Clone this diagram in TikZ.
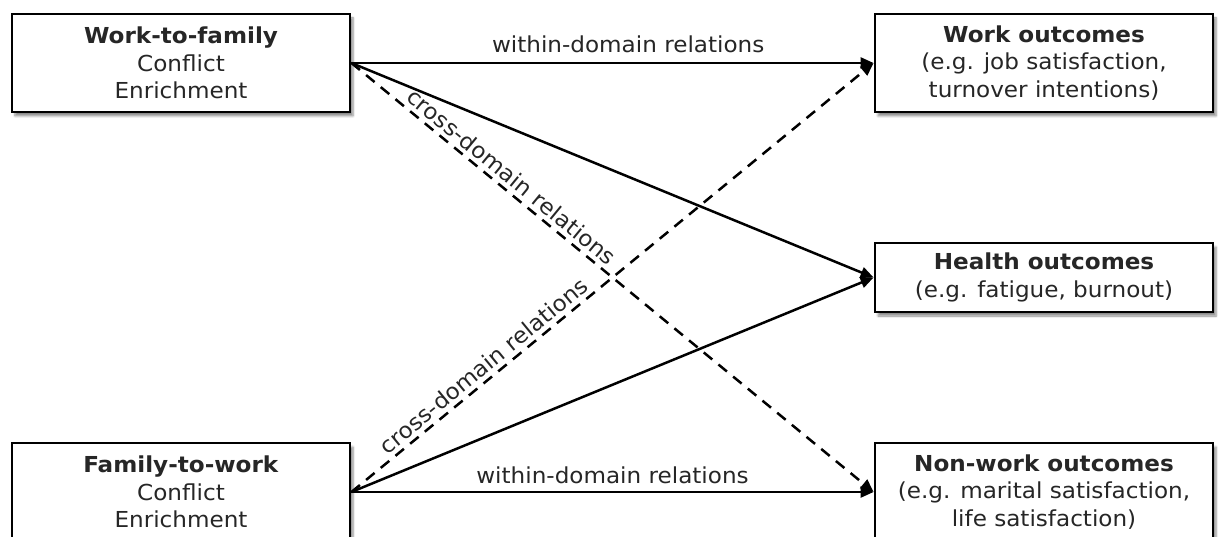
\documentclass[tikz,border=0pt]{standalone}
\usepackage{fontspec}
\setmainfont{DejaVu Sans}[FakeStretch=1.05]
\usetikzlibrary{arrows.meta,shadows.blur}
\begin{document}
\begin{tikzpicture}[x=1pt,y=-1pt,
  box/.style={draw=black, line width=2.8pt, fill=white, minimum width=338pt,
    inner sep=0pt, align=center, text=black!85,
    font=\fontsize{22}{27.5}\selectfont,
    blur shadow={shadow xshift=3pt, shadow yshift=-4pt, shadow blur steps=6, shadow opacity=45}},
  rel/.style={line width=2.5pt, -{Triangle[length=13pt,width=11pt]}},
  cross/.style={rel, dash pattern=on 11pt off 8pt},
  lbl/.style={font=\fontsize{22}{26}\selectfont, text=black!85, inner sep=0pt}
]
\useasboundingbox (0,0) rectangle (1220,537);

% predictor boxes
\node[box, minimum height=98pt] (wf) at (181,63)
  {\textbf{Work-to-family}\\Conflict\\Enrichment};
\node[box, minimum height=98pt] (fw) at (181,492)
  {\textbf{Family-to-work}\\Conflict\\Enrichment};

% outcome boxes
\node[box, minimum height=98pt] (wo) at (1044,63)
  {\textbf{Work outcomes}\\(e.g. job satisfaction,\\turnover intentions)};
\node[box, minimum height=69pt] (ho) at (1044,277.5)
  {\textbf{Health outcomes}\\(e.g. fatigue, burnout)};
\node[box, minimum height=98pt] (no) at (1044,492)
  {\textbf{Non-work outcomes}\\(e.g. marital satisfaction,\\life satisfaction)};

% within-domain relations
\draw[rel] (wf.east) -- node[lbl, pos=0.53, above=9pt] {within-domain relations} (wo.west);
\draw[rel] (fw.east) -- node[lbl, pos=0.5, above=7pt] {within-domain relations} (no.west);

% relations with health
\draw[rel] (wf.east) -- (ho.west);
\draw[rel] (fw.east) -- (ho.west);

% cross-domain relations
\draw[cross] (wf.east) -- node[lbl, pos=0.29, sloped, above=4pt] {cross-domain relations} (no.west);
\draw[cross] (fw.east) -- node[lbl, pos=0.27, sloped, above=4pt] {cross-domain relations} (wo.west);
\end{tikzpicture}
\end{document}
